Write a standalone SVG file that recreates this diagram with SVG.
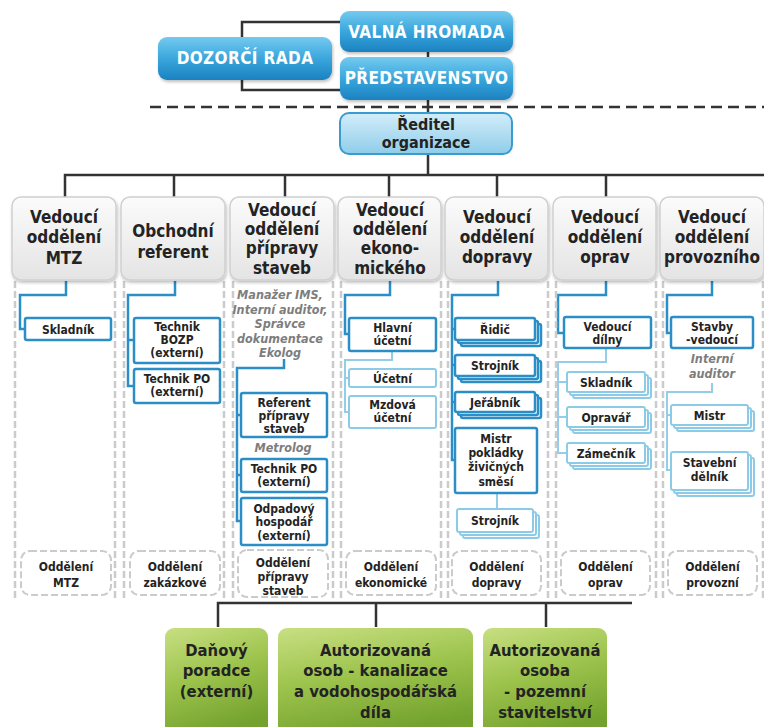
<svg xmlns="http://www.w3.org/2000/svg" width="764" height="727" viewBox="0 0 764 727">
<defs>
<linearGradient id="gBlue" x1="0" y1="0" x2="0" y2="1"><stop offset="0" stop-color="#74caef"/><stop offset="0.5" stop-color="#3aa6dc"/><stop offset="1" stop-color="#1b82c1"/></linearGradient>
<linearGradient id="gLight" x1="0" y1="0" x2="0" y2="1"><stop offset="0" stop-color="#d3edf9"/><stop offset="1" stop-color="#8fcdea"/></linearGradient>
<linearGradient id="gGray" x1="0" y1="0" x2="0" y2="1"><stop offset="0" stop-color="#fbfbfb"/><stop offset="1" stop-color="#e4e4e4"/></linearGradient>
<linearGradient id="gGreen" x1="0" y1="0" x2="0.3" y2="1"><stop offset="0" stop-color="#c8df82"/><stop offset="0.5" stop-color="#9cc34c"/><stop offset="1" stop-color="#73a22e"/></linearGradient>
<filter id="sh" x="-10%" y="-10%" width="125%" height="130%"><feDropShadow dx="1" dy="2" stdDeviation="1.5" flood-color="#000" flood-opacity="0.25"/></filter>
</defs>
<style>
text{font-family:"DejaVu Sans Condensed","DejaVu Sans",sans-serif;font-stretch:condensed;font-weight:bold;text-anchor:middle;fill:#232323}
.w{fill:#fff;font-size:17px;letter-spacing:0.4px}
.h{font-size:17px}
.r{font-size:16px}
.s{font-size:12px}
.it{font-size:12.5px;font-style:italic;fill:#7d7d7d}
.g{font-size:16.5px}
.ln{fill:none;stroke:#333;stroke-width:2.5}
.dash{fill:none;stroke:#333;stroke-width:2.5;stroke-dasharray:11 6}
.bl{fill:none;stroke:#2c8ec6;stroke-width:2.5}
.lb{fill:none;stroke:#94cde9;stroke-width:2}
.bx{fill:#fff;stroke:#2c8ec6;stroke-width:2.5}
.bxl{fill:#fff;stroke:#8ccbe8;stroke-width:2}
.top{fill:url(#gBlue);filter:url(#sh)}
.hd{fill:url(#gGray);stroke:#d0d0d0;stroke-width:1.5;filter:url(#sh)}
.fr{fill:none;stroke:#cbcbcb;stroke-width:2.5;stroke-dasharray:7 3}
.dep{fill:#fff;stroke:#cbcbcb;stroke-width:2;stroke-dasharray:7 3}
.gr{fill:url(#gGreen)}
</style>

<g id="connectors">
<path class="ln" d="M341,22 H242 V37 M242,80 V90 H341 M428,52 V57 M428,100 V113 M428,153 V175 M65,197 V175 H764 M174,175 V197 M285,175 V197 M389,175 V197 M497,175 V197 M606,175 V197"/>
<path class="dash" d="M150,107 H764"/>
<path class="ln" d="M218,627 V603 H632 M376,603 V627 M546,603 V627"/>
<path class="bl" d="M66,281 V295 H20 V329 H25"/>
<path class="bl" d="M175,281 V295 H128 V386 H134 M128,340 H134"/>
<path class="bl" d="M284,359 V368 H237 V521 H241 M237,415 H241 M237,475 H241"/>
<path class="bl" d="M390,281 V295 H345 V334 H349"/>
<path class="lb" d="M392,351 V360 H345 V412 H349 M345,378 H349"/>
<path class="bl" d="M498,281 V295 H452 V460 H455 M452,329 H455 M452,365 H455 M452,402 H455"/>
<path class="lb" d="M497,493 V509"/>
<path class="bl" d="M606,281 V295 H558 V333 H564"/>
<path class="lb" d="M606,348 V362 H558 V453 H567 M558,382 H567 M558,417 H567"/>
<path class="bl" d="M712,281 V295 H667 V333 H671"/>
<path class="lb" d="M712,383 V392 H667 V470 H671 M667,415 H671"/>
</g>

<g id="valna-hromada"><rect class="top" x="340" y="11" width="173" height="41" rx="9"/><text class="w" x="426.5" y="38">VALNÁ HROMADA</text></g>
<g id="predstavenstvo"><rect class="top" x="340" y="57" width="173" height="43" rx="9"/><text class="w" x="426.5" y="84">PŘEDSTAVENSTVO</text></g>
<g id="dozorci-rada"><rect class="top" x="158" y="37" width="174" height="43" rx="9"/><text class="w" x="245" y="64">DOZORČÍ RADA</text></g>
<g id="reditel"><rect x="340" y="113" width="172" height="41" rx="9" fill="url(#gLight)" stroke="#3a9bd0" stroke-width="2"/><text class="r" x="426" y="130">Ředitel</text><text class="r" x="426" y="148">organizace</text></g>

<g id="frames">
<path class="fr" d="M15,281 V598 M115,281 V598 M124,281 V598 M224,281 V598 M233,281 V598 M333,281 V598 M341,281 V598 M441,281 V598 M448,281 V598 M548,281 V598 M556,281 V598 M656,281 V598 M663,281 V598 M763,281 V598"/>
</g>

<g id="h-mtz"><rect class="hd" x="12" y="197" width="104" height="83" rx="9"/><text class="h" x="64" y="223">Vedoucí</text><text class="h" x="64" y="243">oddělení</text><text class="h" x="64" y="264">MTZ</text></g>
<g id="h-obch"><rect class="hd" x="121" y="197" width="104" height="83" rx="9"/><text class="h" x="173" y="237">Obchodní</text><text class="h" x="173" y="258">referent</text></g>
<g id="h-prip"><rect class="hd" x="230" y="197" width="104" height="83" rx="9"/><text class="h" x="282" y="216">Vedoucí</text><text class="h" x="282" y="235">oddělení</text><text class="h" x="282" y="254">přípravy</text><text class="h" x="282" y="274">staveb</text></g>
<g id="h-ekon"><rect class="hd" x="338" y="197" width="103" height="83" rx="9"/><text class="h" x="390" y="216">Vedoucí</text><text class="h" x="390" y="235">oddělení</text><text class="h" x="390" y="254">ekono-</text><text class="h" x="390" y="274">mického</text></g>
<g id="h-dopr"><rect class="hd" x="445" y="197" width="103" height="83" rx="9"/><text class="h" x="497" y="223">Vedoucí</text><text class="h" x="497" y="243">oddělení</text><text class="h" x="497" y="263">dopravy</text></g>
<g id="h-oprav"><rect class="hd" x="553" y="197" width="103" height="83" rx="9"/><text class="h" x="605" y="223">Vedoucí</text><text class="h" x="605" y="243">oddělení</text><text class="h" x="605" y="263">oprav</text></g>
<g id="h-prov"><rect class="hd" x="660" y="197" width="104" height="83" rx="9"/><text class="h" x="712" y="223">Vedoucí</text><text class="h" x="712" y="243">oddělení</text><text class="h" x="712" y="263">provozního</text></g>

<g id="skladnik1"><rect class="bx" x="25" y="318" width="86" height="22" rx="2"/><text class="s" x="68" y="333.5">Skladník</text></g>
<g id="technik-bozp"><rect class="bx" x="134" y="318" width="86" height="45" rx="2"/><text class="s" x="177" y="331">Technik</text><text class="s" x="177" y="344">BOZP</text><text class="s" x="177" y="357">(externí)</text></g>
<g id="technik-po1"><rect class="bx" x="134" y="369" width="86" height="34" rx="2"/><text class="s" x="177" y="383">Technik PO</text><text class="s" x="177" y="396">(externí)</text></g>

<g id="manazer-ims"><text class="it" x="280" y="299">Manažer IMS,</text><text class="it" x="280" y="313.5">Interní auditor,</text><text class="it" x="280" y="328">Správce</text><text class="it" x="280" y="342.5">dokumentace</text><text class="it" x="280" y="357">Ekolog</text></g>
<g id="referent"><rect class="bx" x="241" y="393" width="86" height="44" rx="2"/><text class="s" x="284" y="407">Referent</text><text class="s" x="284" y="420">přípravy</text><text class="s" x="284" y="433">staveb</text></g>
<g id="metrolog"><text class="it" x="283" y="451.5">Metrolog</text></g>
<g id="technik-po2"><rect class="bx" x="241" y="459" width="86" height="33" rx="2"/><text class="s" x="284" y="473">Technik PO</text><text class="s" x="284" y="486">(externí)</text></g>
<g id="odpadovy"><rect class="bx" x="241" y="498" width="86" height="47" rx="2"/><text class="s" x="284" y="513">Odpadový</text><text class="s" x="284" y="526">hospodář</text><text class="s" x="284" y="539.5">(externí)</text></g>

<g id="hlavni-ucetni"><rect class="bx" x="349" y="318" width="87" height="33" rx="2"/><text class="s" x="392.5" y="332">Hlavní</text><text class="s" x="392.5" y="345">účetní</text></g>
<g id="ucetni"><rect class="bxl" x="349" y="369" width="87" height="18" rx="2"/><text class="s" x="392.5" y="382.5">Účetní</text></g>
<g id="mzdova"><rect class="bxl" x="349" y="396" width="87" height="32" rx="2"/><text class="s" x="392.5" y="409">Mzdová</text><text class="s" x="392.5" y="422">účetní</text></g>

<g id="ridic"><rect class="bx" x="461" y="324" width="80" height="22" rx="2"/><rect class="bx" x="458" y="321" width="80" height="22" rx="2"/><rect class="bx" x="455" y="318" width="80" height="22" rx="2"/><text class="s" x="495" y="333.5">Řidič</text></g>
<g id="strojnik1"><rect class="bx" x="461" y="361" width="80" height="21" rx="2"/><rect class="bx" x="458" y="358" width="80" height="21" rx="2"/><rect class="bx" x="455" y="355" width="80" height="21" rx="2"/><text class="s" x="495" y="370">Strojník</text></g>
<g id="jerabnik"><rect class="bx" x="461" y="398" width="80" height="20" rx="2"/><rect class="bx" x="458" y="395" width="80" height="20" rx="2"/><rect class="bx" x="455" y="392" width="80" height="20" rx="2"/><text class="s" x="495" y="406.5">Jeřábník</text></g>
<g id="mistr-pokladky"><rect class="bx" x="455" y="428" width="82" height="65" rx="2"/><text class="s" x="496" y="443">Mistr</text><text class="s" x="496" y="457">pokládky</text><text class="s" x="496" y="471">živičných</text><text class="s" x="496" y="485.5">směsí</text></g>
<g id="strojnik2"><rect class="bxl" x="463" y="515" width="76" height="23" rx="2"/><rect class="bxl" x="460" y="512" width="76" height="23" rx="2"/><rect class="bxl" x="457" y="509" width="76" height="23" rx="2"/><text class="s" x="495" y="525">Strojník</text></g>

<g id="vedouci-dilny"><rect class="bx" x="564" y="317" width="87" height="31" rx="2"/><text class="s" x="607.5" y="331">Vedoucí</text><text class="s" x="607.5" y="344">dílny</text></g>
<g id="skladnik2"><rect class="bxl" x="573" y="378" width="78" height="20" rx="2"/><rect class="bxl" x="570" y="375" width="78" height="20" rx="2"/><rect class="bxl" x="567" y="372" width="78" height="20" rx="2"/><text class="s" x="606" y="386.5">Skladník</text></g>
<g id="opravar"><rect class="bxl" x="573" y="413" width="78" height="20" rx="2"/><rect class="bxl" x="570" y="410" width="78" height="20" rx="2"/><rect class="bxl" x="567" y="407" width="78" height="20" rx="2"/><text class="s" x="606" y="421.5">Opravář</text></g>
<g id="zamecnik"><rect class="bxl" x="573" y="449" width="78" height="20" rx="2"/><rect class="bxl" x="570" y="446" width="78" height="20" rx="2"/><rect class="bxl" x="567" y="443" width="78" height="20" rx="2"/><text class="s" x="606" y="457.5">Zámečník</text></g>

<g id="stavby-vedouci"><rect class="bx" x="671" y="317" width="82" height="31" rx="2"/><text class="s" x="712" y="331">Stavby</text><text class="s" x="712" y="344">-vedoucí</text></g>
<g id="interni-auditor"><text class="it" x="712" y="362.5">Interní</text><text class="it" x="712" y="377.5">auditor</text></g>
<g id="mistr"><rect class="bxl" x="677" y="411" width="77" height="20" rx="2"/><rect class="bxl" x="674" y="408" width="77" height="20" rx="2"/><rect class="bxl" x="671" y="405" width="77" height="20" rx="2"/><text class="s" x="709.5" y="419.5">Mistr</text></g>
<g id="stavebni-delnik"><rect class="bxl" x="677" y="458" width="77" height="38" rx="2"/><rect class="bxl" x="674" y="455" width="77" height="38" rx="2"/><rect class="bxl" x="671" y="452" width="77" height="38" rx="2"/><text class="s" x="709.5" y="466.5">Stavební</text><text class="s" x="709.5" y="480.5">dělník</text></g>

<g id="d-mtz"><rect class="dep" x="21" y="551" width="90" height="44" rx="9"/><text class="s" x="66" y="570.5">Oddělení</text><text class="s" x="66" y="586.5">MTZ</text></g>
<g id="d-zak"><rect class="dep" x="130" y="551" width="90" height="44" rx="9"/><text class="s" x="175" y="570.5">Oddělení</text><text class="s" x="175" y="586.5">zakázkové</text></g>
<g id="d-prip"><rect class="dep" x="238" y="550" width="90" height="47" rx="9"/><text class="s" x="283" y="566.5">Oddělení</text><text class="s" x="283" y="580.5">přípravy</text><text class="s" x="283" y="594.5">staveb</text></g>
<g id="d-ekon"><rect class="dep" x="346" y="551" width="90" height="44" rx="9"/><text class="s" x="391" y="570.5">Oddělení</text><text class="s" x="391" y="586.5">ekonomické</text></g>
<g id="d-dopr"><rect class="dep" x="452" y="551" width="89" height="44" rx="9"/><text class="s" x="496.5" y="570.5">Oddělení</text><text class="s" x="496.5" y="586.5">dopravy</text></g>
<g id="d-oprav"><rect class="dep" x="561" y="551" width="89" height="44" rx="9"/><text class="s" x="605.5" y="570.5">Oddělení</text><text class="s" x="605.5" y="586.5">oprav</text></g>
<g id="d-prov"><rect class="dep" x="668" y="551" width="89" height="44" rx="9"/><text class="s" x="712.5" y="570.5">Oddělení</text><text class="s" x="712.5" y="586.5">provozní</text></g>

<g id="danovy-poradce"><rect class="gr" x="165" y="628" width="103" height="112" rx="9"/><text class="g" x="216.5" y="656">Daňový</text><text class="g" x="216.5" y="676">poradce</text><text class="g" x="216.5" y="697">(externí)</text></g>
<g id="autorizovana-kanalizace"><rect class="gr" x="278" y="628" width="195" height="112" rx="9"/><text class="g" x="375.5" y="656">Autorizovaná</text><text class="g" x="375.5" y="676">osob - kanalizace</text><text class="g" x="375.5" y="697">a vodohospodářská</text><text class="g" x="375.5" y="718">díla</text></g>
<g id="autorizovana-pozemni"><rect class="gr" x="483" y="628" width="124" height="112" rx="9"/><text class="g" x="545" y="656">Autorizovaná</text><text class="g" x="545" y="676">osoba</text><text class="g" x="545" y="697">- pozemní</text><text class="g" x="545" y="718">stavitelství</text></g>
</svg>
